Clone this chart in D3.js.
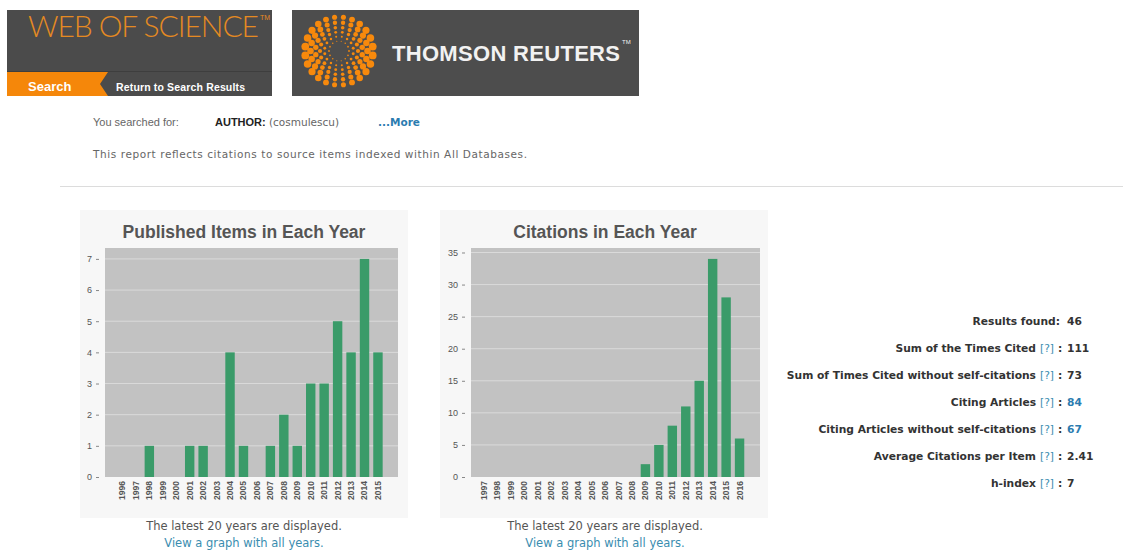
<!DOCTYPE html>
<html>
<head>
<meta charset="utf-8">
<script src="https://cdn.jsdelivr.net/npm/d3@7"></script>
<style>
  body { margin: 0; background: #fff; }
  svg { display: block; font-family: "Liberation Sans", Arial, sans-serif; }
</style>
</head>
<body>
<div id="page"></div>
<script>
// data
const pubYears = ['1996','1997','1998','1999','2000','2001','2002','2003','2004','2005',
                  '2006','2007','2008','2009','2010','2011','2012','2013','2014','2015'];
const pubCounts = [0,0,1,0,0,1,1,0,4,1,0,1,2,1,3,3,5,4,7,4];
const pubTicks = [0,1,2,3,4,5,6,7];

const citeYears = ['1997','1998','1999','2000','2001','2002','2003','2004','2005','2006',
                   '2007','2008','2009','2010','2011','2012','2013','2014','2015','2016'];
const citeCounts = [0,0,0,0,0,0,0,0,0,0,0,0,2,5,8,11,15,34,28,6];
const citeTicks = [0,5,10,15,20,25,30,35];

const statLabels = ['Results found:', 'Sum of the Times Cited', 'Sum of Times Cited without self-citations',
                    'Citing Articles', 'Citing Articles without self-citations',
                    'Average Citations per Item', 'h-index'];
const statValues = ['46', '111', '73', '84', '67', '2.41', '7'];
const statLinks = [false, false, false, true, true, false, false];

const width = 1123;
const height = 550;
const body = '"DejaVu Sans", Verdana, sans-serif';

const svg = d3.select('#page')
	.append('svg')
	.attr('width', width)
	.attr('height', height);

// ---- header: Web of Science box
const wos = svg.append('g');
wos.append('rect').attr('x', 7).attr('y', 10).attr('width', 265).attr('height', 86).attr('fill', '#4b4b4b');
wos.append('line').attr('x1', 7).attr('x2', 272).attr('y1', 71.5).attr('y2', 71.5).attr('stroke', '#3e3e3e');
wos.append('text')
	.attr('x', 28).attr('y', 37)
	.attr('font-family', 'Lato, "DejaVu Sans", sans-serif')
	.attr('font-weight', 300)
	.attr('font-size', 30)
	.attr('fill', '#e58a22')
	.attr('textLength', 231)
	.text('WEB OF SCIENCE');
wos.append('text').attr('x', 260).attr('y', 20).attr('font-size', 7).attr('fill', '#e58a22').text('TM');
wos.append('path')
	.attr('d', 'M7,72 L108,72 L100,84 L108,96 L7,96 Z')
	.attr('fill', '#f5870a');
wos.append('text').attr('x', 28).attr('y', 91).attr('font-size', 13).attr('font-weight', 'bold')
	.attr('fill', '#fff').text('Search');
wos.append('text').attr('x', 116).attr('y', 91).attr('font-size', 10.5).attr('font-weight', 'bold')
	.attr('fill', '#fff').attr('textLength', 129).text('Return to Search Results');

// ---- header: Thomson Reuters box (dotted globe logo)
const tr = svg.append('g');
tr.append('rect').attr('x', 292).attr('y', 10).attr('width', 347).attr('height', 86).attr('fill', '#4d4d4d');
const cx = 339, cy = 51;
const rings = [10, 14.5, 19, 23.5, 28.5, 34];
rings.forEach((r, k) => {
	const n = 14 + k * 2;
	const dots = d3.range(n).map(i => (i + (k % 2) * 0.5) / n * 2 * Math.PI);
	tr.selectAll(null)
		.data(dots)
		.enter()
		.append('circle')
		.attr('cx', a => cx + r * Math.cos(a))
		.attr('cy', a => cy + r * Math.sin(a))
		.attr('r', a => (0.9 + k * 0.6) * (0.6 + 0.4 * Math.abs(Math.cos(a))))
		.attr('fill', '#f7890c');
});
tr.append('text').attr('x', 392).attr('y', 61).attr('font-size', 22).attr('font-weight', 'bold')
	.attr('fill', '#f2f2f2').attr('textLength', 228).text('THOMSON REUTERS');
tr.append('text').attr('x', 622).attr('y', 44).attr('font-size', 6).attr('fill', '#f2f2f2').text('TM');

// ---- search info
const info = svg.append('g').attr('font-size', 11);
info.append('text').attr('x', 93).attr('y', 126).attr('fill', '#666').text('You searched for:');
info.append('text').attr('x', 215).attr('y', 126).attr('fill', '#222').attr('font-weight', 'bold').text('AUTHOR:');
info.append('text').attr('x', 269).attr('y', 126).attr('fill', '#666')
	.attr('font-family', body).attr('font-size', 10.5).text('(cosmulescu)');
info.append('text').attr('x', 378).attr('y', 126).attr('fill', '#2b7cb0').attr('font-weight', 'bold')
	.attr('font-family', body).attr('font-size', 10.5).text('...More');
info.append('text').attr('x', 93).attr('y', 158).attr('fill', '#666')
	.attr('font-family', body).attr('font-size', 10.5)
	.attr('textLength', 434)
	.text('This report reflects citations to source items indexed within All Databases.');

svg.append('line').attr('x1', 60).attr('x2', width).attr('y1', 186.5).attr('y2', 186.5)
	.attr('stroke', '#dcdcdc');

// ---- bar charts
const drawChart = (opts) => {
	const g = svg.append('g');
	g.append('rect')
		.attr('x', opts.panel[0]).attr('y', 210)
		.attr('width', opts.panel[1] - opts.panel[0]).attr('height', 308)
		.attr('fill', '#f7f7f7');

	g.append('text')
		.attr('x', opts.center).attr('y', 238)
		.attr('text-anchor', 'middle')
		.attr('font-size', 17.5).attr('font-weight', 'bold').attr('fill', '#555')
		.text(opts.title);

	const x = d3.scaleBand()
		.domain(opts.years)
		.range(opts.band)
		.padding(0.3);

	const y = d3.scaleLinear()
		.domain([0, opts.max])
		.range([477, 248]);

	g.append('rect')
		.attr('x', opts.plot[0]).attr('y', 248)
		.attr('width', opts.plot[1] - opts.plot[0]).attr('height', 229)
		.attr('fill', '#c2c2c2');

	g.selectAll('.grid')
		.data(opts.ticks.slice(1))
		.enter()
		.append('line')
		.attr('x1', opts.plot[0]).attr('x2', opts.plot[1])
		.attr('y1', d => y(d)).attr('y2', d => y(d))
		.attr('stroke', '#dadada');

	g.selectAll('.bar')
		.data(opts.values)
		.enter()
		.append('rect')
		.attr('x', (d, i) => x(opts.years[i]))
		.attr('y', d => y(d))
		.attr('width', x.bandwidth())
		.attr('height', d => y(0) - y(d))
		.attr('fill', '#3a9b69');

	const yAxis = d3.axisLeft(y)
		.tickValues(opts.ticks)
		.tickSize(3)
		.tickPadding(4);
	const ya = g.append('g')
		.attr('transform', `translate(${opts.plot[0] - 6},0)`)
		.call(yAxis);
	ya.select('.domain').remove();
	ya.selectAll('line').attr('stroke', '#888');
	ya.selectAll('text').attr('font-size', 9).attr('fill', '#555');

	const xAxis = d3.axisBottom(x).tickSize(0).tickPadding(0);
	const xa = g.append('g')
		.attr('transform', 'translate(0,481)')
		.call(xAxis);
	xa.select('.domain').remove();
	xa.selectAll('text')
		.attr('transform', 'rotate(-90)')
		.attr('text-anchor', 'end')
		.attr('x', 0).attr('y', 0).attr('dy', '0.35em')
		.attr('font-size', 8.5).attr('font-weight', 'bold').attr('fill', '#555');

	g.append('text')
		.attr('x', opts.center).attr('y', 530)
		.attr('text-anchor', 'middle')
		.attr('font-family', body)
		.attr('font-size', 11.5).attr('fill', '#555')
		.text('The latest 20 years are displayed.');
	g.append('text')
		.attr('x', opts.center).attr('y', 547)
		.attr('text-anchor', 'middle')
		.attr('font-family', body)
		.attr('font-size', 11.5).attr('fill', '#3a8db0')
		.text('View a graph with all years.');
};

drawChart({
	title: 'Published Items in Each Year',
	years: pubYears, values: pubCounts, ticks: pubTicks, max: 7.35,
	panel: [80, 408], plot: [105, 398], band: [113.7, 386.7], center: 244
});

drawChart({
	title: 'Citations in Each Year',
	years: citeYears, values: citeCounts, ticks: citeTicks, max: 35.7,
	panel: [440, 768], plot: [471, 760], band: [475.3, 748.3], center: 605
});

// ---- summary stats
const rowY = d3.scalePoint()
	.domain(d3.range(statLabels.length))
	.range([325, 487]);

const stats = svg.append('g')
	.attr('font-family', body)
	.attr('font-size', 10.7).attr('font-weight', 'bold');
statLabels.forEach((label, i) => {
	const yy = rowY(i);
	if (i === 0) {
		stats.append('text').attr('x', 1060).attr('y', yy).attr('text-anchor', 'end')
			.attr('fill', '#333').text(label);
	} else {
		stats.append('text').attr('x', 1036).attr('y', yy).attr('text-anchor', 'end')
			.attr('fill', '#333').text(label);
		stats.append('text').attr('x', 1040).attr('y', yy).attr('fill', '#3a8db0')
			.attr('font-weight', 'normal').text('[?]');
		stats.append('text').attr('x', 1058).attr('y', yy).attr('fill', '#333').text(':');
	}
	stats.append('text').attr('x', 1067).attr('y', yy)
		.attr('fill', statLinks[i] ? '#2b7cb0' : '#333')
		.text(statValues[i]);
});
</script>
</body>
</html>
